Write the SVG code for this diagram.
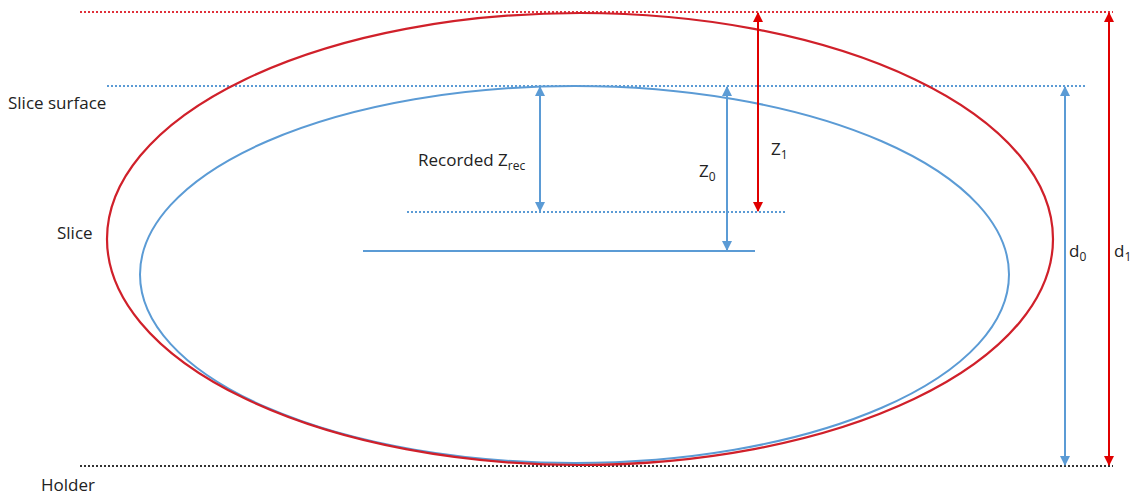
<svg xmlns="http://www.w3.org/2000/svg" width="1137" height="497" viewBox="0 0 1137 497">
<style>
text{font-family:"Open Sans","Liberation Sans",sans-serif;font-size:17px;fill:#222}
.sub{font-size:12px}
.dotR{stroke:#e0303a;stroke-width:2;stroke-dasharray:2 2;fill:none}
.dotB{stroke:#5b9bd5;stroke-width:2;stroke-dasharray:2 2;fill:none}
.dotK{stroke:#333;stroke-width:2;stroke-dasharray:2 2;fill:none}
.arrB{stroke:#5b9bd5;stroke-width:2;fill:none;marker-start:url(#hB);marker-end:url(#hB)}
.arrR{stroke:#e00000;stroke-width:2;fill:none;marker-start:url(#hR);marker-end:url(#hR)}
</style>
<defs>
<marker id="hB" viewBox="0 0 10 10" refX="9" refY="5" markerWidth="5" markerHeight="5" orient="auto-start-reverse" markerUnits="strokeWidth"><path d="M0,0L10,5L0,10z" fill="#5b9bd5"/></marker>
<marker id="hR" viewBox="0 0 10 10" refX="9" refY="5" markerWidth="5" markerHeight="5" orient="auto-start-reverse" markerUnits="strokeWidth"><path d="M0,0L10,5L0,10z" fill="#e00000"/></marker>
</defs>
<rect width="1137" height="497" fill="#fff"/>
<g id="reference-lines">
<line class="dotR" x1="80" y1="12" x2="1113" y2="12"/>
<line class="dotB" x1="107" y1="86" x2="1085" y2="86"/>
<line class="dotB" x1="407" y1="212" x2="786" y2="212"/>
<line x1="363" y1="251" x2="755" y2="251" stroke="#5b9bd5" stroke-width="2"/>
<line class="dotK" x1="80" y1="466" x2="1113" y2="466"/>
</g>
<g id="slice-ellipse">
<ellipse cx="574.5" cy="274.5" rx="434.5" ry="188.5" fill="none" stroke="#5b9bd5" stroke-width="2"/>
</g>
<g id="outer-ellipse">
<ellipse cx="580" cy="239" rx="473" ry="226" fill="none" stroke="#d0202a" stroke-width="2.2"/>
</g>
<g id="connectors">
<line class="arrB" x1="540" y1="87" x2="540" y2="211"/>
<line class="arrB" x1="727" y1="87" x2="727" y2="250"/>
<line class="arrR" x1="758" y1="13" x2="758" y2="211"/>
<line class="arrB" x1="1065" y1="87" x2="1065" y2="465"/>
<line class="arrR" x1="1109" y1="13" x2="1109" y2="465"/>
</g>
<g id="labels">
<text x="8" y="109">Slice surface</text>
<text x="57" y="239">Slice</text>
<text x="41" y="491">Holder</text>
<text x="418" y="166">Recorded Z<tspan class="sub" dy="4">rec</tspan></text>
<text x="699" y="177">Z<tspan class="sub" dy="4">0</tspan></text>
<text x="771" y="155">Z<tspan class="sub" dy="4">1</tspan></text>
<text x="1069" y="257">d<tspan class="sub" dy="4">0</tspan></text>
<text x="1114" y="257">d<tspan class="sub" dy="4">1</tspan></text>
</g>
</svg>
